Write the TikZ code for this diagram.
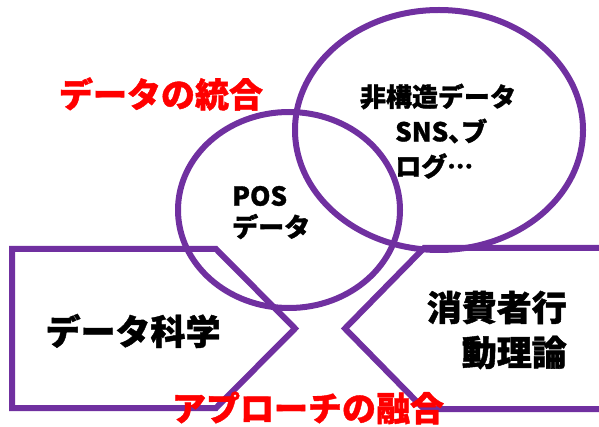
\documentclass[tikz,border=0pt]{standalone}
\usepackage{fontspec}
\setmainfont{Noto Sans CJK JP}[Script=CJK, Language=Japanese, BoldFeatures={FakeBold=1.2}]
\usetikzlibrary{shapes.geometric}
\definecolor{ppurple}{HTML}{7030A0}
\definecolor{pred}{HTML}{FF0000}
\tikzset{
  outline/.style={draw=ppurple, line width=6pt, line join=miter},
  oval/.style={ellipse, draw=ppurple, line width=6pt, inner sep=0pt},
  redlabel/.style={text=pred, inner sep=0pt, font=\bfseries\fontsize{34}{38}\selectfont},
  biglabel/.style={text=black, inner sep=0pt, font=\bfseries\fontsize{35}{40}\selectfont},
  smalllabel/.style={text=black, inner sep=0pt, font=\bfseries\fontsize{26}{30}\selectfont},
}
\begin{document}
\begin{tikzpicture}[x=1pt, y=-1pt]
\useasboundingbox (0,0) rectangle (599,427);
\clip (0,0) rectangle (599,427);
% left pentagon
\coordinate (L1) at (12,249);
\coordinate (L2) at (216,249);
\coordinate (L3) at (295,328.5);
\coordinate (L4) at (216,408);
\coordinate (L5) at (12,408);
\draw[outline] (L1) -- (L2) -- (L3) -- (L4) -- (L5) -- cycle;
% right chevron shape
\coordinate (R1) at (620,248);
\coordinate (R2) at (424,248);
\coordinate (R3) at (345,328.5);
\coordinate (R4) at (424,409);
\coordinate (R5) at (620,409);
\draw[outline] (R1) -- (R2) -- (R3) -- (R4) -- (R5);
% ellipses
\node[oval, minimum width=222pt, minimum height=196pt] (pos) at (289,210) {};
\node[oval, minimum width=288pt, minimum height=240pt] (sns) at (439,130) {};
% texts
\node[redlabel] (integ) at (161,94) {データの統合};
\node[redlabel] (fusion) at (308,408) {アプローチの融合};
\node[biglabel] (ds) at (133,331) {データ科学};
\node[biglabel, anchor=east] (cb1) at (567,307.5) {消費者行};
\node[biglabel, anchor=east] (cb2) at (567,352.5) {動理論};
\node[smalllabel] (u1) at (438,96.5) {非構造データ};
\node[smalllabel, anchor=west] (u2) at (395,131) {SNS{\addfontfeature{RawFeature=+palt}、}ブ};
\node[smalllabel, anchor=west] (u3) at (395,166) {ログ{\addfontfeature{RawFeature=+fwid}…}};
\node[smalllabel, anchor=west] (p1) at (232,196) {POS};
\node[smalllabel, anchor=west] (p2) at (232,226.5) {データ};
\end{tikzpicture}
\end{document}
